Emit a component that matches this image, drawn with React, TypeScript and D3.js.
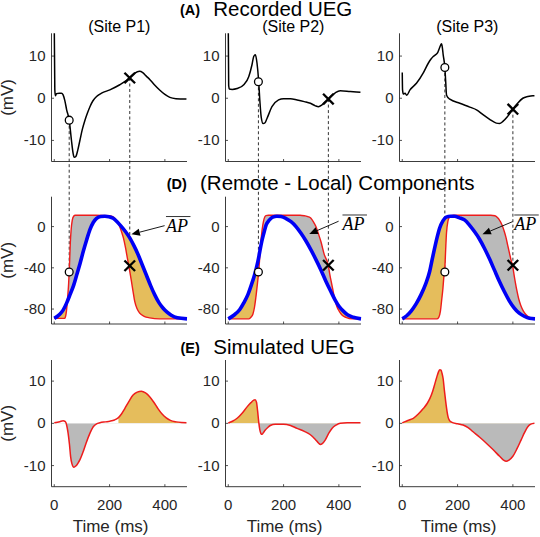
import React from 'react';
import * as d3 from 'd3';

type P = [number, number];

// ---------- DATA ----------
const siteNames = ['(Site P1)', '(Site P2)', '(Site P3)'];
const xTicks = [0, 200, 400];
const yTicksUEG = [-10, 0, 10];
const yTicksAP = [-80, -40, 0];

const recordedP1: P[] = [[0,17],[2,2],[4,0.6],[8,1.1],[18,1.2],[26,1.2],[32,0.8],[38,-0.5],[45,-2.8],[54,-5.2],[62,-9.9],[68,-13],[72,-14],[78,-13.8],[85,-12.3],[93,-9.9],[101,-7.5],[111,-5.2],[120,-3.5],[129,-2],[140,-0.6],[153,0.4],[171,1.2],[201,2],[237,3.2],[256,4],[272,4.9],[290,5.9],[308,6.4],[320,6.1],[332,5.3],[346,4.4],[362,3.2],[382,1.9],[400,0.9],[418,0.2],[440,-0.1],[478,-0.2]];
const recordedP2: P[] = [[0,17],[1.5,3],[4,2.2],[14,2.1],[32,2.3],[56,3.2],[74,5.1],[86,8],[92,9.9],[98,10.3],[104,8.3],[110,4],[114,-0.4],[119,-4.4],[126,-6],[133,-5.8],[140,-4.8],[158,-2],[182,-0.4],[200,-0.1],[225,-0.1],[249,-0.4],[275,-0.8],[297,-1.2],[315,-1.8],[326,-2.0],[340,-1.5],[352,-0.8],[362,-0.2],[375,0.7],[387,1.3],[405,1.8],[441,1.6],[478,1.4]];
const recordedP3: P[] = [[0,6.1],[1,2],[4,1.0],[10,1.2],[16,0.7],[28,2.0],[52,3.6],[76,6],[94,8.3],[104,9.3],[112,9.9],[120,10.3],[128,10.8],[134,11.8],[142,12.9],[145,12.0],[148,10.3],[154,7.3],[157,4],[160,0.8],[166,0.1],[172,-0.2],[208,-1.2],[244,-2.1],[270,-2.8],[292,-3.9],[316,-5.0],[340,-5.9],[352,-6.0],[364,-5.5],[380,-4.4],[400,-2.6],[418,-1.1],[436,0],[454,0.4],[472,0.6],[478,0.6]];

const meanApP1: P[] = [[0,-89],[20,-85],[32,-81],[45,-74],[57,-66],[70,-57],[81,-47],[93,-36],[105,-24],[117,-13],[129,-3],[141,4],[153,8],[168,9.8],[183,10],[198,9.5],[213,8],[228,4.5],[243,0],[258,-5],[273,-11],[288,-18.5],[303,-27],[318,-37],[333,-47],[348,-57],[363,-66],[378,-73.5],[393,-79],[408,-83],[423,-86],[445,-88.5],[480,-89.5]];
const meanApP2: P[] = [[0,-89.5],[20,-86],[41,-80.7],[56,-74],[71,-66],[83,-57],[95,-47],[107,-34],[121,-14.5],[130,-5],[137,1.6],[149,6.5],[161,9.2],[176,10],[191,9.7],[209,7.8],[227,4.8],[245,0],[263,-6.5],[281,-14],[299,-22.6],[317,-32],[335,-42],[353,-53],[371,-63],[386,-71],[401,-77.5],[416,-82],[431,-85.5],[452,-88],[480,-89.5]];
const meanApP3: P[] = [[0,-89.5],[16,-86.5],[32,-82],[50,-75],[68,-66],[84,-56],[99,-43.6],[108,-32],[117,-21],[126,-10.5],[135,-1.6],[147,5.5],[159,9.2],[174,10],[189,10],[207,8.5],[225,6.5],[243,1.5],[261,-4.8],[279,-12],[297,-21],[315,-31],[333,-42],[351,-53],[369,-63],[387,-72],[405,-79],[423,-84],[441,-87],[460,-89],[480,-89.5]];

const localApP1: P[] = [[0,-89],[38,-89],[41,-87],[44,-82],[48,-70],[52,-55],[54,-44],[56,-30],[58,-16],[61,-3],[65,6],[70,10],[76,11],[150,11],[200,10.6],[213,9.5],[225,6],[235,1],[243,-4.8],[250,-11],[258,-21],[264,-30],[270,-38.7],[279,-53],[285,-63],[291,-72.6],[300,-80],[309,-84],[325,-87],[345,-88.5],[381,-89.5],[480,-89.5]];
const localApP2: P[] = [[0,-89.5],[75,-89.5],[82,-88],[89,-85],[95,-78],[101,-66],[106,-54],[110,-44],[113,-33],[116,-21],[120,-9],[125,1.6],[130,8],[136,10.7],[145,11],[260,11],[275,10.5],[290,9.5],[299,8],[308,4.5],[317,0],[326,-7],[335,-14.5],[347,-27],[362,-38],[367,-46],[372,-53],[378,-61],[384,-69],[392,-77],[401,-82],[412,-86],[425,-88],[450,-89.5],[480,-89.5]];
const localApP3: P[] = [[0,-89.5],[125,-89.5],[132,-88],[138,-82],[143,-70],[147,-60],[150,-50],[154,-40],[157,-22],[160,-6],[165,5],[170,9],[176,10.7],[185,11],[320,11],[335,10.5],[345,8.5],[351,6.5],[360,2],[369,-4.8],[375,-10.5],[381,-17.7],[387,-25],[393,-32],[399,-38],[405,-48],[414,-61.5],[421,-70],[428,-76],[437,-81.5],[446,-85],[460,-88],[477,-89],[480,-89]];

const simulatedP1: P[] = [[0,0.15],[20,0.4],[32,0.6],[38,0.5],[42,0.2],[46,-0.8],[50,-2.3],[55,-5],[59,-7.8],[64,-9.6],[71,-10.4],[78,-10.1],[86,-9.4],[93,-8.6],[104,-6.8],[115,-4.7],[128,-2.5],[141,-0.8],[153,-0.1],[165,0.15],[185,0.35],[201,0.5],[218,0.8],[231,1.3],[243,2.2],[255,3.5],[270,5.2],[285,6.7],[300,7.4],[315,7.6],[330,7.2],[345,6.3],[360,5],[375,3.5],[390,2.2],[405,1.3],[420,0.7],[441,0.35],[460,0.2],[478,0.15]];
const simulatedP2: P[] = [[0,0.1],[15,0.5],[32,1.2],[50,2.4],[68,3.9],[82,4.9],[92,5.5],[97,5.6],[102,5.0],[106,3],[110,0.4],[114,-1.5],[118,-2.4],[122,-2.6],[127,-2.2],[134,-1.6],[143,-1.0],[152,-0.5],[170,-0.2],[200,-0.2],[225,-0.5],[249,-1.2],[275,-1.9],[297,-2.7],[315,-3.8],[327,-4.7],[333,-5.0],[340,-4.8],[351,-3.9],[363,-2.4],[375,-1.2],[390,-0.4],[405,0.05],[430,0.15],[478,0.15]];
const simulatedP3: P[] = [[0,0.1],[10,0.4],[25,0.8],[40,1.2],[58,2.2],[76,3.5],[90,4.7],[100,5.9],[110,7.6],[118,9.4],[125,11],[131,12.2],[136,12.7],[140,12.6],[144,11.8],[148,10.5],[152,8],[157,5.2],[162,2.8],[166,1.4],[172,0.6],[178,0.3],[200,-0.1],[220,-0.4],[238,-1.0],[256,-2.0],[280,-3.3],[304,-4.7],[328,-6.2],[352,-7.8],[366,-8.7],[376,-9.0],[386,-8.7],[400,-7.8],[415,-6.0],[430,-3.9],[442,-2.2],[454,-0.8],[465,-0.2],[478,0]];
const goldFillStartT = [232, 0, 0];

const recorded = [recordedP1, recordedP2, recordedP3];
const meanAp = [meanApP1, meanApP2, meanApP3];
const localAp = [localApP1, localApP2, localApP3];
const simulated = [simulatedP1, simulatedP2, simulatedP3];

const circleT = [54, 109, 154];
const circleRecV = [-5.2, 3.9, 7.3];
const circleApV = [-44, -44, -44];
const crossT = [273, 362, 400];
const crossRecV = [4.8, -0.2, -2.6];
const crossApV = [-38, -37.5, -37.5];

const apLabelT = [404, 413, 405];
const apLabelV = [-4.8, -3.3, -3.3];
const arrowTailT = [399, 399, 399];
const arrowTailV = [0.9, 5.2, 4.8];
const arrowTipT = [279, 293, 290];
const arrowTipV = [-7.5, -7.2, -7.5];

// ---------- LAYOUT ----------
const W = 540, H = 537;
const colLeft = [51.5, 225.5, 399.5];
const colWidth = 135.5;
const rowCfg = [
  { domain: [-15, 15.4], top: 33.3, bottom: 161.5, ticks: yTicksUEG },
  { domain: [-94.5, 29], top: 196.7, bottom: 324, ticks: yTicksAP },
  { domain: [-15, 15], top: 360, bottom: 486.7, ticks: yTicksUEG },
];
const FONT = "'Liberation Sans', Arial, Helvetica, sans-serif";
const AX = '#262626';
const GOLD = '#E5BD5C';
const GRAY = '#BABABA';
const RED = '#EE1C1C';
const BLUE = '#0000F5';

const xs = colLeft.map((l) => d3.scaleLinear().domain([-10, 480]).range([l, l + colWidth]));
const ys = rowCfg.map((r) => d3.scaleLinear().domain(r.domain).range([r.bottom, r.top]));

function Axes({ c, r }: { c: number; r: number }) {
  const x = xs[c], y = ys[r], cfg = rowCfg[r];
  const left = colLeft[c], right = left + colWidth;
  return (
    <g>
      <line x1={left} x2={left} y1={cfg.top} y2={cfg.bottom} stroke={AX} strokeWidth={0.9} />
      <line x1={left} x2={right} y1={cfg.bottom} y2={cfg.bottom} stroke={AX} strokeWidth={0.9} />
      {xTicks.map((t) => (
        <line key={'xt' + t} x1={x(t)} x2={x(t)} y1={cfg.bottom} y2={cfg.bottom - 2.5} stroke={AX} strokeWidth={0.8} />
      ))}
      {cfg.ticks.map((v) => (
        <g key={'yt' + v}>
          <line x1={left} x2={left + 2.5} y1={y(v)} y2={y(v)} stroke={AX} strokeWidth={0.8} />
          <text x={left - 6} y={y(v) + 5} textAnchor="end" fontSize={15} fontFamily={FONT} fill={AX}>{v}</text>
        </g>
      ))}
      {r === 2 && xTicks.map((t) => (
        <text key={'xl' + t} x={x(t)} y={510} textAnchor="middle" fontSize={15} fontFamily={FONT} fill={AX}>{t}</text>
      ))}
    </g>
  );
}

export default function App() {
  const lineOf = (c: number, r: number) =>
    d3.line<P>().x((d) => xs[c](d[0])).y((d) => ys[r](d[1])).curve(d3.curveMonotoneX);
  const areaOf = (c: number, r: number, base: number) =>
    d3.area<P>().x((d) => xs[c](d[0])).y0(base).y1((d) => ys[r](d[1])).curve(d3.curveMonotoneX);

  return (
    <svg width={W} height={H} viewBox={`0 0 ${W} ${H}`} style={{ display: 'block', background: '#fff', position: 'absolute', left: 0, top: 0 }}>
      <defs>
        {[0, 1, 2].map((c) =>
          [0, 1, 2].map((r) => (
            <clipPath id={`clip-${r}-${c}`} key={`clip-${r}-${c}`}>
              <rect x={colLeft[c]} y={rowCfg[r].top} width={colWidth} height={rowCfg[r].bottom - rowCfg[r].top} />
            </clipPath>
          ))
        )}
        {[0, 1, 2].map((c) => (
          <g key={'apclip' + c}>
            <clipPath id={`belowRed-${c}`}>
              <path d={areaOf(c, 1, rowCfg[1].bottom)(localAp[c]) || ''} />
            </clipPath>
            <clipPath id={`aboveRed-${c}`}>
              <path d={areaOf(c, 1, rowCfg[1].top)(localAp[c]) || ''} />
            </clipPath>
            <clipPath id={`simPos-${c}`}>
              <rect x={xs[c](goldFillStartT[c])} y={rowCfg[2].top} width={xs[c](480) - xs[c](goldFillStartT[c])} height={ys[2](0) - rowCfg[2].top} />
            </clipPath>
            <clipPath id={`simNeg-${c}`}>
              <rect x={colLeft[c]} y={ys[2](0)} width={colWidth} height={rowCfg[2].bottom - ys[2](0)} />
            </clipPath>
          </g>
        ))}
      </defs>

      {/* Titles */}
      <text x={180} y={15} fontSize={14.5} fontWeight="bold" fontFamily={FONT} fill="#000">(A)</text>
      <text x={213.3} y={16} fontSize={20.5} fontFamily={FONT} fill="#000">Recorded UEG</text>
      <text x={166.7} y={189} fontSize={14.5} fontWeight="bold" fontFamily={FONT} fill="#000">(D)</text>
      <text x={200} y={189.5} fontSize={20.5} fontFamily={FONT} fill="#000">(Remote - Local) Components</text>
      <text x={180.5} y={353} fontSize={14.5} fontWeight="bold" fontFamily={FONT} fill="#000">(E)</text>
      <text x={213.3} y={354} fontSize={20.5} fontFamily={FONT} fill="#000">Simulated UEG</text>

      {siteNames.map((s, c) => (
        <text key={s} x={colLeft[c] + colWidth / 2} y={32} textAnchor="middle" fontSize={16} fontFamily={FONT} fill="#000">{s}</text>
      ))}

      {rowCfg.map((r, i) => (
        <text key={'yl' + i} transform={`translate(13,${(r.top + r.bottom) / 2}) rotate(-90)`} textAnchor="middle" fontSize={17} fontFamily={FONT} fill={AX}>(mV)</text>
      ))}
      {[0, 1, 2].map((c) => (
        <text key={'xlab' + c} x={xs[c](200) + 1} y={532} textAnchor="middle" fontSize={17} fontFamily={FONT} fill={AX}>Time (ms)</text>
      ))}

      {/* dashed guide lines */}
      {[0, 1, 2].map((c) => (
        <g key={'dash' + c} stroke="#333" strokeWidth={1} strokeDasharray="3,2.5">
          <line x1={xs[c](circleT[c])} x2={xs[c](circleT[c])} y1={ys[0](circleRecV[c])} y2={ys[1](circleApV[c])} />
          <line x1={xs[c](crossT[c])} x2={xs[c](crossT[c])} y1={ys[0](crossRecV[c])} y2={ys[1](crossApV[c])} />
        </g>
      ))}

      {[0, 1, 2].map((c) => (
        <g key={'panels' + c}>
          {/* Row 1 */}
          <Axes c={c} r={0} />
          <path d={lineOf(c, 0)(recorded[c]) || ''} fill="none" stroke="#000" strokeWidth={1.5} clipPath={`url(#clip-0-${c})`} />

          {/* Row 2 */}
          <path d={areaOf(c, 1, rowCfg[1].top)(meanAp[c]) || ''} fill={GRAY} clipPath={`url(#belowRed-${c})`} />
          <path d={areaOf(c, 1, rowCfg[1].bottom)(meanAp[c]) || ''} fill={GOLD} clipPath={`url(#aboveRed-${c})`} />
          <Axes c={c} r={1} />
          <path d={lineOf(c, 1)(localAp[c]) || ''} fill="none" stroke={RED} strokeWidth={1.4} />
          <path d={lineOf(c, 1)(meanAp[c]) || ''} fill="none" stroke={BLUE} strokeWidth={3.6} strokeLinejoin="round" />

          {/* Row 3 */}
          <path d={areaOf(c, 2, ys[2](0))(simulated[c]) || ''} fill={GOLD} clipPath={`url(#simPos-${c})`} />
          <path d={areaOf(c, 2, ys[2](0))(simulated[c]) || ''} fill={GRAY} clipPath={`url(#simNeg-${c})`} />
          <Axes c={c} r={2} />
          <path d={lineOf(c, 2)(simulated[c]) || ''} fill="none" stroke={RED} strokeWidth={1.5} />
        </g>
      ))}

      {/* markers */}
      {[0, 1, 2].map((c) => {
        const cx = xs[c](circleT[c]);
        const kx = xs[c](crossT[c]);
        const s = 5.3;
        return (
          <g key={'mk' + c}>
            {[ys[0](circleRecV[c]), ys[1](circleApV[c])].map((cy, i) => (
              <circle key={'c' + i} cx={cx} cy={cy} r={3.9} fill="#fff" stroke="#000" strokeWidth={1.3} />
            ))}
            {[ys[0](crossRecV[c]), ys[1](crossApV[c])].map((ky, i) => (
              <g key={'x' + i} stroke="#000" strokeWidth={2.3}>
                <line x1={kx - s} x2={kx + s} y1={ky - s} y2={ky + s} />
                <line x1={kx - s} x2={kx + s} y1={ky + s} y2={ky - s} />
              </g>
            ))}
          </g>
        );
      })}

      {/* AP-bar annotations */}
      {[0, 1, 2].map((c) => {
        const tx = xs[c](apLabelT[c]);
        const ty = ys[1](apLabelV[c]);
        const x1 = xs[c](arrowTailT[c]), y1 = ys[1](arrowTailV[c]);
        const x2 = xs[c](arrowTipT[c]), y2 = ys[1](arrowTipV[c]);
        const ang = Math.atan2(y2 - y1, x2 - x1);
        const L = 8.5, hw = 3.6;
        const bx = x2 - L * Math.cos(ang), by = y2 - L * Math.sin(ang);
        const p1 = [bx + hw * Math.sin(ang), by - hw * Math.cos(ang)];
        const p2 = [bx - hw * Math.sin(ang), by + hw * Math.cos(ang)];
        return (
          <g key={'ann' + c}>
            <text x={tx} y={ty} fontSize={18} fontStyle="italic" fontFamily="'Liberation Serif', 'Times New Roman', serif" fill="#000">AP</text>
            <line x1={tx} x2={tx + 24.5} y1={ty - 15} y2={ty - 15} stroke="#000" strokeWidth={0.8} />
            <line x1={x1} y1={y1} x2={bx} y2={by} stroke="#000" strokeWidth={0.9} />
            <polygon points={`${x2},${y2} ${p1[0]},${p1[1]} ${p2[0]},${p2[1]}`} fill="#000" />
          </g>
        );
      })}
    </svg>
  );
}
